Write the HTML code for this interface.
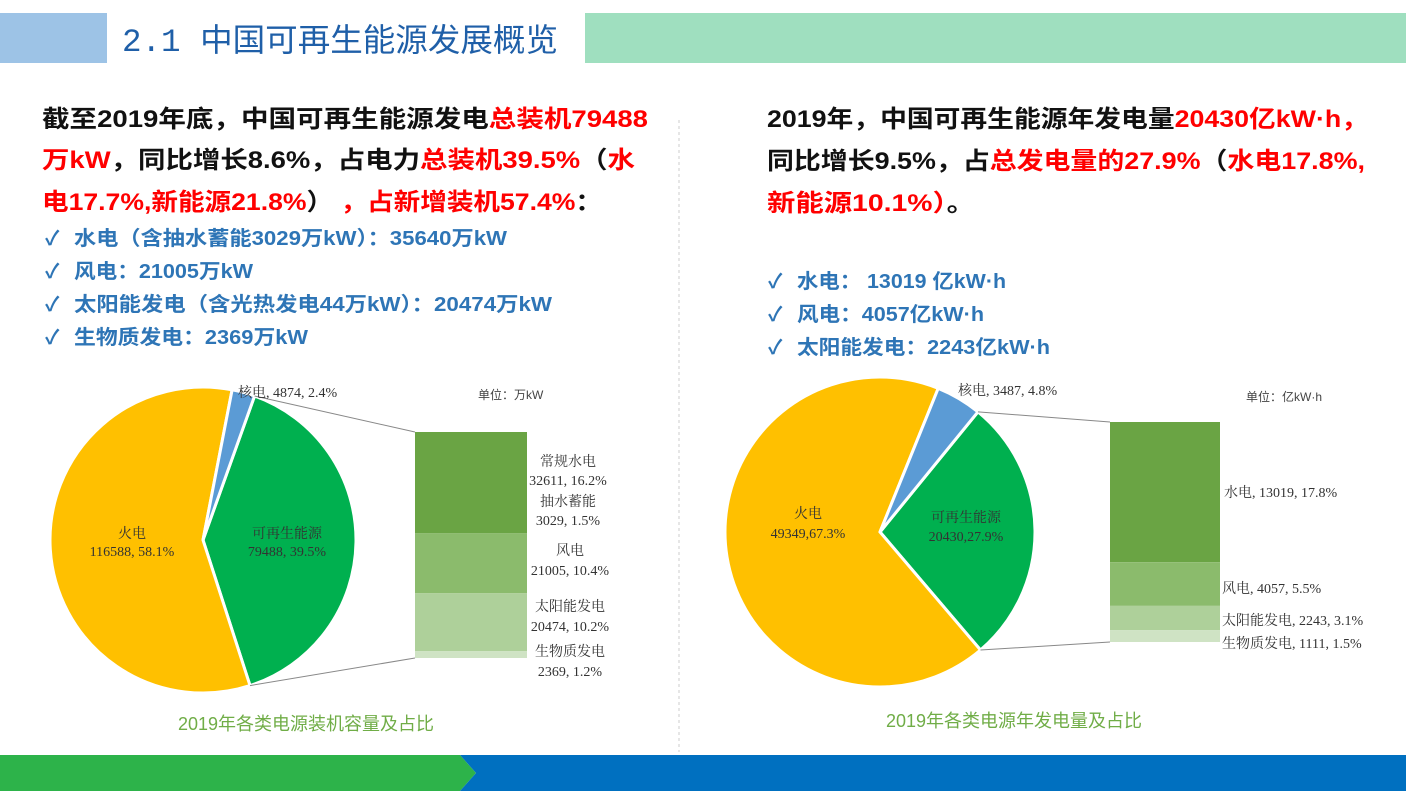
<!DOCTYPE html>
<html><head><meta charset="utf-8"><style>
body{margin:0;background:#fff;}
svg{display:block;font-family:"Liberation Sans","Noto Sans CJK SC",sans-serif;}
.s{font-family:"Liberation Serif","Noto Serif CJK SC",serif;font-size:14px;fill:#333;}
.p{font-size:24px;font-weight:bold;}
.l{font-size:20px;font-weight:bold;fill:#2e75b6;}
</style></head><body>
<svg id="root" width="1406" height="791" viewBox="0 0 1406 791">
<rect x="0" y="13" width="107" height="50" fill="#9dc3e6"/>
<rect x="585" y="13" width="821" height="50" fill="#9fdfbf"/>
<text x="122" y="51" font-size="32" fill="#1f5fa8" style="font-family:'Liberation Mono','Noto Sans CJK SC',sans-serif" textLength="436" lengthAdjust="spacingAndGlyphs">2.1 中国可再生能源发展概览</text>
<line x1="679" y1="120" x2="679" y2="752" stroke="#ccc" stroke-dasharray="3,3"/>

<g>
<text class="p" x="42" y="127" textLength="606" lengthAdjust="spacingAndGlyphs"><tspan fill="#111">截至2019年底，中国可再生能源发电</tspan><tspan fill="#f00">总装机79488</tspan></text>
<text class="p" x="42" y="168" textLength="593" lengthAdjust="spacingAndGlyphs"><tspan fill="#f00">万kW</tspan><tspan fill="#111">，同比增长8.6%，占电力</tspan><tspan fill="#f00">总装机39.5%</tspan><tspan fill="#111">（</tspan><tspan fill="#f00">水</tspan></text>
<text class="p" x="42" y="210" textLength="560" lengthAdjust="spacingAndGlyphs"><tspan fill="#f00">电17.7%,新能源21.8%</tspan><tspan fill="#111">） </tspan><tspan fill="#f00">，占新增装机57.4%</tspan><tspan fill="#111">：</tspan></text>
</g>
<g>
<text class="l" x="45" y="245">✓</text><text class="l" x="74" y="245" textLength="433" lengthAdjust="spacingAndGlyphs">水电（含抽水蓄能3029万kW）：35640万kW</text>
<text class="l" x="45" y="278">✓</text><text class="l" x="74" y="278" textLength="179" lengthAdjust="spacingAndGlyphs">风电：21005万kW</text>
<text class="l" x="45" y="311">✓</text><text class="l" x="74" y="311" textLength="478" lengthAdjust="spacingAndGlyphs">太阳能发电（含光热发电44万kW）：20474万kW</text>
<text class="l" x="45" y="344">✓</text><text class="l" x="74" y="344" textLength="234" lengthAdjust="spacingAndGlyphs">生物质发电：2369万kW</text>
</g>
<g>
<text class="p" x="767" y="127" textLength="601" lengthAdjust="spacingAndGlyphs"><tspan fill="#111">2019年，中国可再生能源年发电量</tspan><tspan fill="#f00">20430亿kW·h，</tspan></text>
<text class="p" x="767" y="169" textLength="598" lengthAdjust="spacingAndGlyphs"><tspan fill="#111">同比增长9.5%，占</tspan><tspan fill="#f00">总发电量的27.9%</tspan><tspan fill="#111">（</tspan><tspan fill="#f00">水电17.8%,</tspan></text>
<text class="p" x="767" y="211" textLength="208" lengthAdjust="spacingAndGlyphs"><tspan fill="#f00">新能源10.1%）</tspan><tspan fill="#111">。</tspan></text>
</g>
<g>
<text class="l" x="768" y="288">✓</text><text class="l" x="797" y="288" textLength="209" lengthAdjust="spacingAndGlyphs">水电： 13019 亿kW·h</text>
<text class="l" x="768" y="321">✓</text><text class="l" x="797" y="321" textLength="187" lengthAdjust="spacingAndGlyphs">风电：4057亿kW·h</text>
<text class="l" x="768" y="354">✓</text><text class="l" x="797" y="354" textLength="253" lengthAdjust="spacingAndGlyphs">太阳能发电：2243亿kW·h</text>
</g>
<g id="c1"></g>
<g id="c2"></g>
<text x="178" y="730" font-size="18" fill="#70ad47">2019年各类电源装机容量及占比</text>
<text x="886" y="727" font-size="18" fill="#70ad47">2019年各类电源年发电量及占比</text>
<text x="478" y="399" font-size="12" fill="#444">单位：万kW</text>
<text x="1246" y="401" font-size="12" fill="#444">单位：亿kW·h</text>
<polygon points="0,755 460,755 476,773 460,791 0,791" fill="#2db34a"/>
<polygon points="460,755 1406,755 1406,791 460,791 476,773" fill="#0070c0"/>
</svg>
<script>
// Chart 1: installed capacity (万kW)
const pie1Labels = ["可再生能源", "火电", "核电"];
const pie1Values = [79488, 116588, 4874];
const pie1Text = ["79488, 39.5%", "116588, 58.1%", "4874, 2.4%"];
const bar1Labels = ["常规水电+抽水蓄能", "风电", "太阳能发电", "生物质发电"];
const bar1Values = [35640, 21005, 20474, 2369];
// Chart 2: generation (亿kW·h)
const pie2Labels = ["可再生能源", "火电", "核电"];
const pie2Values = [20430, 49349, 3487];
const pie2Text = ["20430,27.9%", "49349,67.3%", "3487, 4.8%"];
const bar2Labels = ["水电", "风电", "太阳能发电", "生物质发电"];
const bar2Values = [13019, 4057, 2243, 1111];

const NS = "http://www.w3.org/2000/svg";
const pieColors = ["#00b04f", "#ffc000", "#5b9bd5"];
const barColors = ["#6aa444", "#8bbb6c", "#aed09a", "#cfe3c4"];
function mk(parent, tag, attrs) {
  const e = document.createElementNS(NS, tag);
  for (const k in attrs) e.setAttribute(k, attrs[k]);
  parent.appendChild(e);
  return e;
}
function drawChart(g, cfg, pv, bv) {
  const total = pv.reduce((a, b) => a + b, 0);
  const angle = v => v / total * 2 * Math.PI;
  const pt = a => [cfg.cx + cfg.r * Math.sin(a), cfg.cy - cfg.r * Math.cos(a)];
  let a0 = cfg.start;
  const ends = [];
  pv.forEach((v, i) => {
    const a1 = a0 + angle(v);
    const p0 = pt(a0), p1 = pt(a1);
    const large = (a1 - a0) > Math.PI ? 1 : 0;
    const path = mk(g, "path", {d: `M${cfg.cx},${cfg.cy}L${p0[0]},${p0[1]}A${cfg.r},${cfg.r} 0 ${large} 1 ${p1[0]},${p1[1]}Z`, fill: pieColors[i], stroke: "#fff", "stroke-width": 3});
    
    
    ends.push([p0, p1]);
    a0 = a1;
  });
  const btotal = bv.reduce((a, b) => a + b, 0);
  const sc = cfg.bh / btotal;
  let y = cfg.by;
  bv.forEach((v, i) => {
    const r = mk(g, "rect", {x: cfg.bx, y: y, width: cfg.bw, height: v * sc, fill: barColors[i]});
    
    
    y += v * sc;
  });
  const l1 = mk(g, "line", {x1: ends[0][0][0], y1: ends[0][0][1], x2: cfg.bx, y2: cfg.by, stroke: "#888", "stroke-width": 1});
  
  
  const l2 = mk(g, "line", {x1: ends[0][1][0], y1: ends[0][1][1], x2: cfg.bx, y2: cfg.by + cfg.bh, stroke: "#888", "stroke-width": 1});
  
  
}
const c1 = document.getElementById("c1");
const c2 = document.getElementById("c2");
drawChart(c1, {cx: 203, cy: 540, r: 153, start: 19.7 * Math.PI / 180, bx: 415, by: 432, bw: 112, bh: 226}, pie1Values, bar1Values);
drawChart(c2, {cx: 880, cy: 532, r: 155, start: 39.2 * Math.PI / 180, bx: 1110, by: 422, bw: 110, bh: 220}, pie2Values, bar2Values);

function lbl(g, x, y, t, anchor) {
  const e = mk(g, "text", {x: x, y: y, class: "s", "text-anchor": anchor || "middle"});
  e.textContent = t;
  
  
}
// left labels
lbl(c1, 132, 538, pie1Labels[1]); lbl(c1, 132, 556, pie1Text[1]);
lbl(c1, 287, 538, pie1Labels[0]); lbl(c1, 287, 556, pie1Text[0]);
lbl(c1, 238, 397, pie1Labels[2] + ", " + pie1Text[2], "start");
lbl(c1, 568, 466, "常规水电"); lbl(c1, 568, 485, "32611, 16.2%");
lbl(c1, 568, 506, "抽水蓄能"); lbl(c1, 568, 525, "3029, 1.5%");
lbl(c1, 570, 555, bar1Labels[1]); lbl(c1, 570, 575, bar1Values[1] + ", 10.4%");
lbl(c1, 570, 611, bar1Labels[2]); lbl(c1, 570, 631, bar1Values[2] + ", 10.2%");
lbl(c1, 570, 656, bar1Labels[3]); lbl(c1, 570, 676, bar1Values[3] + ", 1.2%");
// right labels
lbl(c2, 808, 518, pie2Labels[1]); lbl(c2, 808, 538, pie2Text[1]);
lbl(c2, 966, 522, pie2Labels[0]); lbl(c2, 966, 541, pie2Text[0]);
lbl(c2, 958, 395, pie2Labels[2] + ", " + pie2Text[2], "start");
lbl(c2, 1224, 497, bar2Labels[0] + ", " + bar2Values[0] + ", 17.8%", "start");
lbl(c2, 1222, 593, bar2Labels[1] + ", " + bar2Values[1] + ", 5.5%", "start");
lbl(c2, 1222, 625, bar2Labels[2] + ", " + bar2Values[2] + ", 3.1%", "start");
lbl(c2, 1222, 648, bar2Labels[3] + ", " + bar2Values[3] + ", 1.5%", "start");
</script>
</body></html>
